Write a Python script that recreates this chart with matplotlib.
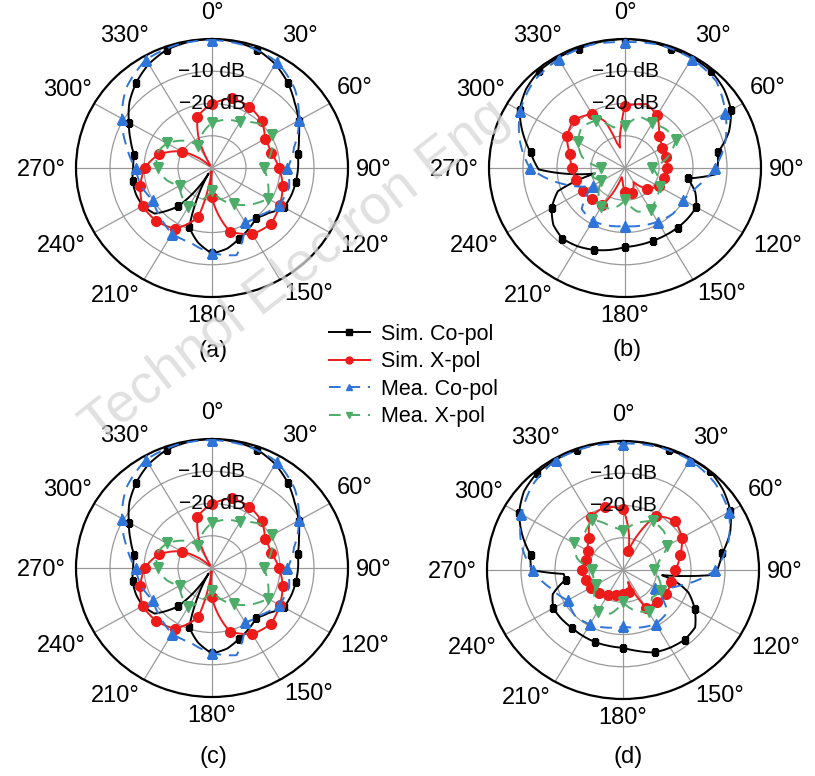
import numpy as np
import matplotlib.pyplot as plt
from matplotlib.lines import Line2D

plt.rcParams['font.family'] = ['Liberation Sans', 'DejaVu Sans']

# ---- data (angle in deg, level in dB) ----
mea_ang = list(range(0, 360, 15))

# panels (a) and (c) look the same
sim_co_ang_ac = [0, 10, 20, 30, 40, 50, 60, 70, 80, 90, 100, 110, 120, 130, 140, 150, 160, 170, 180, 190,
                 200, 205, 210, 215, 220, 230, 240, 250, 260, 270, 280, 290, 300, 310, 320, 330, 340, 350]
sim_co_db_ac = [0, -0.3, -1.0, -2.8, -5.4, -8.3, -10.6, -12.8, -14.4, -14.7, -15.0, -15.2, -15.6, -18.3, -19.8,
                -18.3, -16.7, -14.6, -13.5, -16.5, -20.5, -30, -38, -31, -24.5, -18, -16.5, -16.2, -16.3, -16.8,
                -16.8, -14.5, -11.8, -8.3, -5.4, -2.8, -1.0, -0.3]
sim_x_ang_ac = [0, 15, 30, 45, 60, 75, 90, 105, 120, 135, 150, 165, 180, 187, 195, 210, 225, 240, 255, 270,
                285, 300, 315, 330, 337, 345]
sim_x_db_ac = [-20.1, -17.6, -18, -19.4, -22, -22, -20.3, -18.5, -17, -15.5, -16.3, -19.6, -31, -39, -24.2,
               -18.2, -16.8, -16.4, -18.2, -20.2, -23.8, -29.8, -39, -39, -30, -23.5]
mea_co_db_ac = [-0.3, -0.8, -1.9, -5.5, -10.5, -15, -17.8, -16.5, -17.2, -19.5, -20.5, -12, -13.6, -16, -16.5,
                -18.5, -19.9, -18.5, -17.5, -14, -9.4, -4.5, -1.2, -0.4]
mea_x_db_ac = [-26, -24.5, -23.5, -20.5, -19.5, -22, -24.8, -23, -21, -24, -27, -30, -33, -30, -26, -27.5, -29,
               -26, -24, -23, -24.7, -28, -32, -29]

# panel (b)
sim_co_ang_b = [0, 10, 20, 30, 40, 50, 60, 70, 80, 90, 94, 100, 110, 120, 130, 140, 150, 160, 170, 180, 190,
                200, 210, 220, 230, 240, 250, 255, 259, 269, 280, 290, 300, 310, 320, 330, 340, 350]
sim_co_db_b = [0, -0.2, -0.6, -0.5, -0.7, -2, -4, -7.5, -12.3, -12.8, -13, -21.3, -18, -15.8, -15.8, -15.9,
               -16, -16, -15.8, -15.5, -14.2, -13, -12, -11.4, -12.5, -15.1, -19, -26, -31, -14.6, -11.8, -8,
               -4.2, -2, -0.7, -0.5, -0.6, -0.2]
sim_x_ang_b = [0, 18, 30, 45, 60, 75, 90, 105, 120, 135, 150, 165, 180, 190, 199, 210, 225, 240, 255, 270, 285,
               300, 315, 330, 338, 343, 347, 355]
sim_x_db_b = [-20.8, -19.2, -21.2, -26, -27.4, -27.4, -27.7, -28, -28.6, -31, -35, -32, -32.7, -36, -37, -26.7,
              -26.2, -25.6, -25.2, -24.4, -23.3, -20.3, -18.8, -20.7, -24.5, -32, -33.5, -27.2]
mea_co_db_b = [-1, -0.5, -0.8, -2, -5.9, -9.5, -13.6, -18, -20.4, -20, -20.8, -21.5, -22, -21.5, -21, -22, -29,
               -21, -12, -8, -4.4, -2, -1, -0.5]
mea_x_db_b = [-27, -23.5, -24, -23, -22.8, -27, -32, -30, -28, -27, -25, -26, -30, -27, -26, -29, -32, -30, -33,
              -27, -24, -22, -23, -27]

# panel (d)
sim_co_ang_d = [0, 10, 20, 30, 40, 50, 60, 70, 80, 90, 93, 98, 105, 110, 120, 130, 140, 150, 160, 170, 180, 190,
                200, 210, 220, 230, 240, 250, 260, 266, 270, 280, 290, 300, 310, 320, 330, 340, 350]
sim_co_db_d = [0, -0.1, -0.4, -0.3, -0.1, -1.5, -3.5, -6.5, -10.4, -12.3, -12.4, -28.4, -22.7, -19.5, -15.6,
               -12.3, -11.8, -12.2, -12.8, -14.5, -15.9, -16.1, -16.2, -16.4, -16.6, -16.4, -16.3, -18, -22.9,
               -22.5, -13, -12.4, -8.5, -4.7, -2, -0.7, -0.5, -0.4, -0.1]
sim_x_ang_d = [0, 8, 15, 22, 30, 45, 60, 75, 90, 105, 120, 135, 150, 158, 165, 180, 195, 210, 225, 240, 255,
               270, 285, 300, 315, 330, 345]
sim_x_db_d = [-21, -28, -33.8, -28, -20.5, -18.4, -20, -22.6, -24.6, -25.3, -25.4, -25.9, -26.5, -36, -33,
              -32.5, -32, -31, -30, -29, -28.6, -28, -28.6, -28, -26, -21, -19.7]
mea_co_db_d = [-0.8, -0.5, -0.6, -1.8, -4, -8, -12.8, -22, -29, -21.5, -20.7, -21.5, -22.5, -21.5, -20.5, -20,
               -21.2, -18, -13.4, -9, -5.5, -2.5, -0.6, -0.5]
mea_x_db_d = [-28, -25, -22.5, -23, -25, -29, -31, -29, -27, -28, -25, -27, -30, -26, -25, -28, -31, -31, -31,
              -26, -23.5, -24, -22, -26]

labels = ['Sim. Co-pol', 'Sim. X-pol', 'Mea. Co-pol', 'Mea. X-pol']
panel_names = ['(a)', '(b)', '(c)', '(d)']
theta_ticks = list(range(0, 360, 30))

panels = [
    ((sim_co_ang_ac, sim_co_db_ac), (sim_x_ang_ac, sim_x_db_ac), (mea_ang, mea_co_db_ac), (mea_ang, mea_x_db_ac)),
    ((sim_co_ang_b, sim_co_db_b), (sim_x_ang_b, sim_x_db_b), (mea_ang, mea_co_db_b), (mea_ang, mea_x_db_b)),
    ((sim_co_ang_ac, sim_co_db_ac), (sim_x_ang_ac, sim_x_db_ac), (mea_ang, mea_co_db_ac), (mea_ang, mea_x_db_ac)),
    ((sim_co_ang_d, sim_co_db_d), (sim_x_ang_d, sim_x_db_d), (mea_ang, mea_co_db_d), (mea_ang, mea_x_db_d)),
]

RED = '#ee1b1b'
BLUE = '#2f74d8'
GREEN = '#4cad68'
DASH = (0, (6, 4))
styles = [
    dict(color='black', ls='-', marker='s', ms=5, step=20),
    dict(color=RED, ls='-', marker='o', ms=7, step=15),
    dict(color=BLUE, ls=DASH, marker='^', ms=7.5, step=30),
    dict(color=GREEN, ls=DASH, marker='v', ms=7.5, step=30),
]

W, H = 815, 776
centers = [(212, 168), (625, 168), (212, 568), (623, 570)]
label_pos = [(213, 351), (627, 350), (213, 757), (628, 757)]
RX, RY = 136, 129
# angle label centres, pixels from the pole (x right, y down)
tick_off = [(0, -155), (88, -132.5), (143, -79.5), (162, 2), (153, 78), (97, 126),
            (0, 148.5), (-97, 128), (-151, 78.5), (-171, 2), (-145, -78), (-88, -132)]

fig = plt.figure(figsize=(W / 100, H / 100), dpi=100)

for (cx, cy), data, name, (lx, ly) in zip(centers, panels, panel_names, label_pos):
    ax = fig.add_axes([(cx - RX) / W, 1 - (cy + RY) / H, 2 * RX / W, 2 * RY / H], projection='polar')
    ax.set_aspect('auto')
    ax.set_theta_zero_location('N')
    ax.set_theta_direction(-1)
    for (ang, db), st in zip(data, styles):
        a = np.deg2rad(list(ang) + [ang[0] + 360])
        d = np.array(list(db) + [db[0]])
        ln, = ax.plot(a, d, color=st['color'], ls=st['ls'], lw=1.4, zorder=3)
        # follow the polar grid between samples (arcs, not chords)
        ln.get_path()._interpolation_steps = 24
        idx = [i for i, (g, v) in enumerate(zip(ang, db)) if g % st['step'] == 0 and v > -35]
        ax.plot(a[idx], d[idx], ls='none', color=st['color'], marker=st['marker'],
                ms=st['ms'], zorder=3)
    ax.set_ylim(-40, 0)
    ax.set_yticks([-30, -20, -10, 0])
    ax.set_yticklabels([])
    ax.set_thetagrids(theta_ticks, [''] * len(theta_ticks))
    ax.tick_params(axis='x', length=0)
    for t, (dx, dy) in zip(theta_ticks, tick_off):
        ax.text(0.5 + dx / (2 * RX), 0.5 - dy / (2 * RY), f'{t}°', transform=ax.transAxes,
                ha='center', va='center', fontsize=17)
    ax.grid(color='#999999', lw=0.9)
    ax.spines['polar'].set_linewidth(1.6)
    ax.spines['polar'].set_color('black')
    ax.text(0, -10, '\u221210 dB', ha='center', va='center', fontsize=15, zorder=4)
    ax.text(0, -20, '\u221220 dB', ha='center', va='center', fontsize=15, zorder=4)
    fig.text(lx / W, 1 - ly / H, name, ha='center', va='center', fontsize=17)

handles = [Line2D([], [], color=st['color'], ls=st['ls'], lw=1.4, marker=st['marker'], ms=5)
           for st in styles]
fig.legend(handles, labels, loc='center', bbox_to_anchor=(0.507, 0.516), frameon=False,
           fontsize=15.5, handlelength=1.9, handletextpad=0.5, labelspacing=0.3, borderpad=0)

# watermark
fig.text(296 / W, 1 - 272 / H, 'Technol Electron Eng', rotation=38, fontsize=40,
         color='#d6d6d6', alpha=0.75, ha='center', va='center')

fig.savefig('out.png', dpi=100)
